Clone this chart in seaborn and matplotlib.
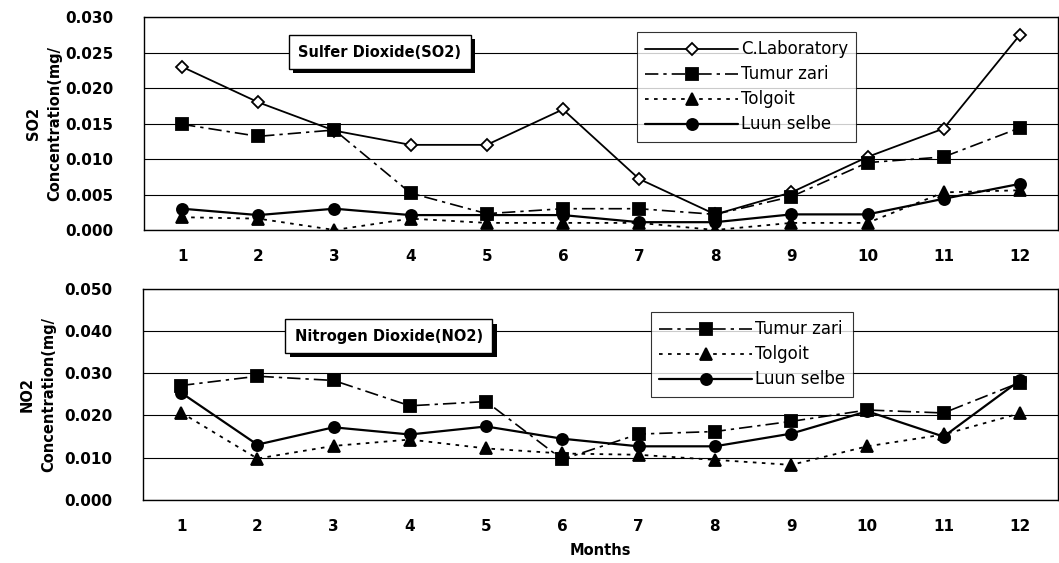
import numpy as np
import pandas as pd
import matplotlib
matplotlib.use("Agg")
import matplotlib.pyplot as plt
import matplotlib.patheffects as pe
import seaborn as sns

months = list(range(1, 13))

so2_lab = [0.023, 0.018, 0.014, 0.012, 0.012, 0.017, 0.0072, 0.0022, 0.0053, 0.0103, 0.0143, 0.0275]
so2_tumur = [0.0149, 0.0132, 0.0141, 0.0052, 0.0023, 0.0030, 0.0030, 0.0022, 0.0047, 0.0095, 0.0103, 0.0144]
so2_tolgoit = [0.0018, 0.0016, 0.0000, 0.0016, 0.0010, 0.0010, 0.0010, 0.0000, 0.0010, 0.0010, 0.0053, 0.0056]
so2_luun = [0.0030, 0.0021, 0.0030, 0.0021, 0.0021, 0.0021, 0.0011, 0.0011, 0.0022, 0.0022, 0.0044, 0.0065]

no2_tumur = [0.0271, 0.0293, 0.0283, 0.0223, 0.0233, 0.0096, 0.0156, 0.0162, 0.0186, 0.0213, 0.0206, 0.0278]
no2_tolgoit = [0.0207, 0.0098, 0.0128, 0.0143, 0.0122, 0.0110, 0.0107, 0.0095, 0.0083, 0.0127, 0.0155, 0.0205]
no2_luun = [0.0254, 0.0131, 0.0172, 0.0155, 0.0174, 0.0145, 0.0127, 0.0127, 0.0157, 0.0210, 0.0150, 0.0283]

sns.set_theme(style="white")
plt.rcParams['font.family'] = ['DejaVu Sans']
plt.rcParams['text.color'] = 'black'
plt.rcParams['axes.labelcolor'] = 'black'
plt.rcParams['xtick.color'] = 'black'
plt.rcParams['ytick.color'] = 'black'

fig = plt.figure(figsize=(10.59, 5.63), dpi=100)
ax1 = fig.add_axes([0.136, 0.5915, 0.863, 0.378])
ax2 = fig.add_axes([0.135, 0.112, 0.864, 0.375])

styles = {
    "C.Laboratory": dict(marker="D", mfc="white", mec="black", ls="-", lw=1.3, ms=6),
    "Tumur zari": dict(marker="s", mfc="black", mec="black", ls=(0, (8, 3, 2, 3)), lw=1.2, ms=8),
    "Tolgoit": dict(marker="^", mfc="black", mec="black", ls=(0, (2, 3)), lw=1.3, ms=8),
    "Luun selbe": dict(marker="o", mfc="black", mec="black", ls="-", lw=1.6, ms=8),
}

def draw(ax, series):
    for name, vals in series:
        st = styles[name]
        df = pd.DataFrame({"Month": months, "Value": vals})
        sns.lineplot(data=df, x="Month", y="Value", ax=ax, color="black",
                     marker=st["marker"], markerfacecolor=st["mfc"],
                     markeredgecolor=st["mec"], markeredgewidth=1.3,
                     markersize=st["ms"], linestyle=st["ls"], linewidth=st["lw"],
                     label=name)

draw(ax1, [("C.Laboratory", so2_lab), ("Tumur zari", so2_tumur),
           ("Tolgoit", so2_tolgoit), ("Luun selbe", so2_luun)])
draw(ax2, [("Tumur zari", no2_tumur), ("Tolgoit", no2_tolgoit), ("Luun selbe", no2_luun)])

tickfont = dict(fontsize=11, fontweight="bold")
for ax, ymax, step in [(ax1, 0.030, 0.005), (ax2, 0.050, 0.010)]:
    ax.set_xlim(0.5, 12.5)
    ax.set_ylim(0, ymax)
    yt = np.round(np.arange(0, ymax + step / 2, step), 3)
    ax.set_yticks(yt)
    ax.set_yticklabels([f"{v:.3f}" for v in yt], **tickfont)
    ax.set_xticks(months)
    ax.set_xticklabels([str(m) for m in months], **tickfont)
    ax.tick_params(axis="y", length=0, pad=22)
    ax.tick_params(axis="x", length=0, pad=14)
    ax.grid(axis="y", color="black", lw=0.8)
    ax.grid(axis="x", visible=False)
    ax.set_axisbelow(True)
    for s in ax.spines.values():
        s.set_color("black")
        s.set_linewidth(1.0)
    ax.set_xlabel("")
    ax.set_ylabel("")

ax1.set_ylabel("SO2\nConcentration(mg/", fontsize=10.5, fontweight="bold", linespacing=1.5, labelpad=2)
ax2.set_ylabel("NO2\nConcentration(mg/", fontsize=10.5, fontweight="bold", linespacing=1.5, labelpad=6)
ax2.set_xlabel("Months", fontsize=10.5, fontweight="bold", labelpad=6)

for ax, loc in [(ax1, (0.539, 0.93)), (ax2, (0.555, 0.89))]:
    leg = ax.legend(loc="upper left", bbox_to_anchor=loc, frameon=True, fancybox=False,
                    fontsize=12, handlelength=5.6, borderpad=0.5, labelspacing=0.42,
                    handletextpad=0.15, borderaxespad=0)
    leg.get_frame().set_edgecolor("black")
    leg.get_frame().set_linewidth(0.8)

for ax, txt, xy in [(ax1, "Sulfer Dioxide(SO2)", (0.169, 0.835)), (ax2, "Nitrogen Dioxide(NO2)", (0.166, 0.775))]:
    t = ax.text(xy[0], xy[1], txt, transform=ax.transAxes, fontsize=10.5, fontweight="bold",
                ha="left", va="center",
                bbox=dict(boxstyle="square,pad=0.65", fc="white", ec="black", lw=1.0))
    t.get_bbox_patch().set_path_effects([pe.SimplePatchShadow(offset=(3, -3), shadow_rgbFace="black", alpha=1), pe.Normal()])

fig.savefig("out.png", dpi=100)
